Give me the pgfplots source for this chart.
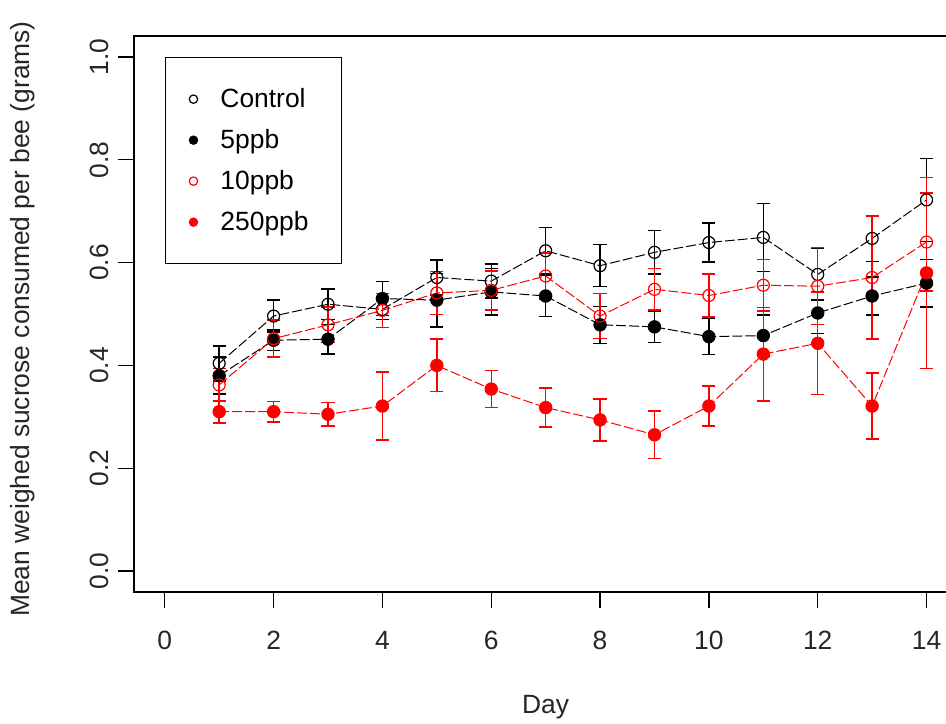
\documentclass[border=0pt]{standalone}
\usepackage{pgfplots}
\pgfplotsset{compat=1.18}
\usepackage{pgfplotstable}
\usepackage{fontspec}
\setmainfont{Liberation Sans}

% day, mean and half error bar per group
\pgfplotstableread{
day  ctl   ctle  p5    p5e   p10   p10e  p250  p250e
1    0.404 0.034 0.380 0.036 0.362 0.032 0.310 0.022
2    0.496 0.031 0.449 0.020 0.452 0.036 0.310 0.020
3    0.519 0.030 0.451 0.029 0.479 0.035 0.305 0.023
4    0.509 0.020 0.530 0.033 0.507 0.033 0.321 0.066
5    0.571 0.034 0.527 0.052 0.541 0.042 0.400 0.051
6    0.564 0.033 0.543 0.045 0.546 0.038 0.354 0.036
7    0.623 0.045 0.535 0.040 0.574 0.045 0.318 0.038
8    0.594 0.041 0.479 0.036 0.496 0.044 0.294 0.041
9    0.620 0.042 0.475 0.031 0.548 0.040 0.265 0.046
10   0.639 0.038 0.456 0.035 0.536 0.042 0.321 0.039
11   0.649 0.066 0.458 0.040 0.556 0.050 0.422 0.091
12   0.577 0.050 0.502 0.040 0.554 0.075 0.443 0.100
13   0.647 0.045 0.535 0.037 0.571 0.120 0.321 0.064
14   0.722 0.081 0.560 0.046 0.640 0.095 0.580 0.186
}\data

\begin{document}
\begin{tikzpicture}
\useasboundingbox (-67.15pt,-65.7pt) rectangle (405.85pt,295.8pt);
\begin{axis}[
  at={(0pt,0pt)}, anchor=south west,
  scale only axis,
  width=411.35pt, height=277.6pt,
  xmin=-0.56, xmax=14.56, ymin=-0.04, ymax=1.04,
  xtick={0,2,...,14},
  ytick={0,0.2,...,1.0},
  yticklabel={\pgfmathprintnumber[fixed,fixed zerofill,precision=1]{\tick}},
  /pgf/number format/assume math mode=true,
  tick align=outside,
  xtick pos=bottom, ytick pos=left,
  major tick length=8.3pt,
  major tick style={black, line width=0.7pt},
  axis line style={line width=1pt},
  ticklabel style={font=\fontsize{13.2}{16}\selectfont, text=black!85},
  xticklabel style={anchor=center, yshift=-16pt},
  yticklabel style={xshift=-9pt, rotate=90, anchor=center},
  xlabel={Day},
  ylabel={Mean weighed sucrose consumed per bee (grams)},
  every axis x label/.style={at={(axis description cs:0.5,-0.2079)}, anchor=center,
    font=\fontsize{13.2}{16}\selectfont, text=black!85},
  every axis y label/.style={at={(axis description cs:-0.1361,0.491)}, rotate=90, anchor=center,
    font=\fontsize{13.2}{16}\selectfont, text=black!85},
  legend style={at={(axis cs:0,1)}, anchor=north west, draw=black, line width=0.7pt,
    inner xsep=11pt, inner ysep=10.5pt, row sep=0pt,
    font=\fontsize{13.2}{16}\selectfont, nodes={inner sep=0pt}},
  legend cell align=left,
  legend image code/.code={%
    \path[draw=none, fill=none] (0pt,-10.25pt) rectangle (6pt,10.25pt);
    \draw[#1, solid, mark size=2.1pt] plot coordinates {(3pt,0pt)};},
  error bars/y dir=both, error bars/y explicit,
  error bars/error bar style={solid, line width=0.7pt},
  error bars/error mark options={rotate=90, mark size=3.3pt, line width=0.7pt, solid},
  every axis plot/.append style={line width=0.5pt, dash pattern=on 5pt off 1.5pt},
]
\addplot[black, mark=o, mark size=3pt, mark options={solid, line width=0.6pt}]
  table[x=day, y=ctl, y error=ctle] {\data};
\addlegendentry{\makebox[60pt][l]{\hspace{10.5pt}Control}}
\addplot[black, mark=*, mark size=3.1pt, mark options={solid}]
  table[x=day, y=p5, y error=p5e] {\data};
\addlegendentry{\makebox[60pt][l]{\hspace{10.5pt}5ppb}}
\addplot[red, mark=o, mark size=3pt, mark options={solid, line width=0.6pt}]
  table[x=day, y=p10, y error=p10e] {\data};
\addlegendentry{\makebox[60pt][l]{\hspace{10.5pt}10ppb}}
\addplot[red, mark=*, mark size=3.1pt, mark options={solid}]
  table[x=day, y=p250, y error=p250e] {\data};
\addlegendentry{\makebox[60pt][l]{\hspace{10.5pt}250ppb}}
\end{axis}
\end{tikzpicture}
\end{document}
